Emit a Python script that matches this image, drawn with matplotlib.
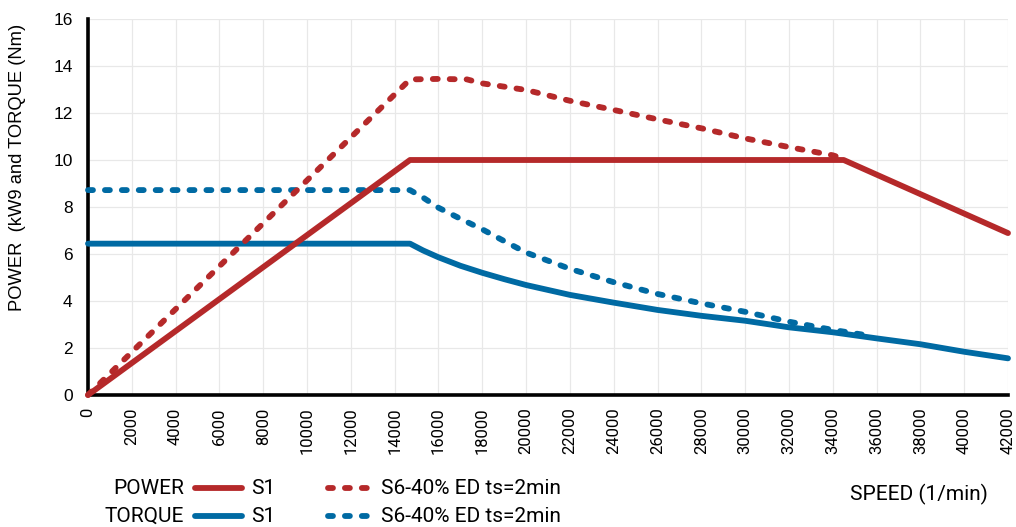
import matplotlib
matplotlib.use('Agg')
import matplotlib.pyplot as plt
from matplotlib.lines import Line2D

# motor characteristic: speed in 1/min, power in kW, torque in Nm
speed_p1 = [0, 14700, 34500, 42000]
power_s1 = [0, 10.0, 10.0, 6.89]

speed_p6 = [0, 14700, 16000, 17300, 18000, 20000, 22000, 24000, 26000, 28000,
            30000, 32000, 34000, 34500]
power_s6 = [0, 13.43, 13.45, 13.43, 13.26, 12.98, 12.52, 12.13, 11.73, 11.35,
            10.92, 10.55, 10.2, 10.05]

speed_t1 = [0, 14700, 15300, 16000, 17000, 18000, 19000, 20000, 22000, 24000,
            26000, 28000, 30000, 32000, 34000, 36000, 38000, 40000, 42000]
torque_s1 = [6.44, 6.44, 6.15, 5.86, 5.5, 5.2, 4.93, 4.68, 4.26, 3.93,
             3.62, 3.37, 3.16, 2.88, 2.67, 2.41, 2.16, 1.84, 1.56]

speed_t6 = [0, 14700, 15300, 16000, 17000, 18000, 19000, 20000, 22000, 24000,
            26000, 28000, 30000, 32000, 34000, 35500]
torque_s6 = [8.72, 8.72, 8.4, 7.97, 7.5, 7.05, 6.55, 6.06, 5.37, 4.80,
             4.30, 3.90, 3.54, 3.12, 2.77, 2.55]

xticks = list(range(0, 42001, 2000))
yticks = list(range(0, 17, 2))

RED = '#b5292a'
BLUE = '#006aa3'
LW = 4.2
DASH = (0.85, 2.05)
TXT = 'Roboto'

fig = plt.figure(figsize=(10.16, 5.27), dpi=100)
ax = fig.add_axes([88 / 1016, 132 / 527, 920 / 1016, 376 / 527])

line_kw = dict(linewidth=LW, solid_capstyle='round', dash_capstyle='round',
               solid_joinstyle='round', clip_on=False, zorder=3)
ax.plot(speed_t1, torque_s1, color=BLUE, **line_kw)
ax.plot(speed_t6, torque_s6, color=BLUE, dashes=DASH, **line_kw)
ax.plot(speed_p1, power_s1, color=RED, **line_kw)
ax.plot(speed_p6, power_s6, color=RED, dashes=DASH, **line_kw)

ax.set_xlim(0, 42000)
ax.set_ylim(0, 16)
ax.set_xticks(xticks)
ax.set_yticks(yticks)
ax.set_xticklabels([str(v) for v in xticks], rotation=90, fontfamily=TXT, fontsize=12)
ax.set_yticklabels([str(v) for v in yticks], fontfamily='Liberation Sans', fontsize=12.5)
ax.tick_params(axis='both', length=0)
ax.tick_params(axis='x', pad=9)
ax.tick_params(axis='y', pad=11)
ax.grid(True, color='#e8e8e8', linewidth=0.9)
ax.set_axisbelow(True)

for side in ['top', 'right']:
    ax.spines[side].set_visible(False)
for side in ['left', 'bottom']:
    ax.spines[side].set_linewidth(2.6)
    ax.spines[side].set_color('black')

# legend drawn by hand below the axes
W, H = 1016, 527
def fx(px):
    return px / W
def fy(py):
    return (H - py) / H

fig.text(fx(18), fy(167), 'POWER  (kW9 and TORQUE (Nm)', rotation=90, ha='center',
         va='center', fontfamily='Liberation Sans', fontsize=13.2)

rows = [('POWER', RED, 488), ('TORQUE', BLUE, 516)]
for name, col, y in rows:
    fig.text(fx(184), fy(y), name, ha='right', va='center', fontfamily=TXT, fontsize=15)
    fig.add_artist(Line2D([fx(195), fx(242)], [fy(y), fy(y)], color=col, linewidth=LW,
                          solid_capstyle='round', transform=fig.transFigure))
    fig.text(fx(251), fy(y), 'S1', ha='left', va='center', fontfamily=TXT, fontsize=15)
    fig.add_artist(Line2D([fx(328), fx(378)], [fy(y), fy(y)], color=col, linewidth=LW,
                          dashes=DASH, dash_capstyle='round', transform=fig.transFigure))
    fig.text(fx(381), fy(y), 'S6-40% ED ts=2min', ha='left', va='center',
             fontfamily=TXT, fontsize=15)

fig.text(fx(850), fy(494), 'SPEED (1/min)', ha='left', va='center', fontfamily=TXT, fontsize=15)

fig.savefig('out.png', dpi=100)
